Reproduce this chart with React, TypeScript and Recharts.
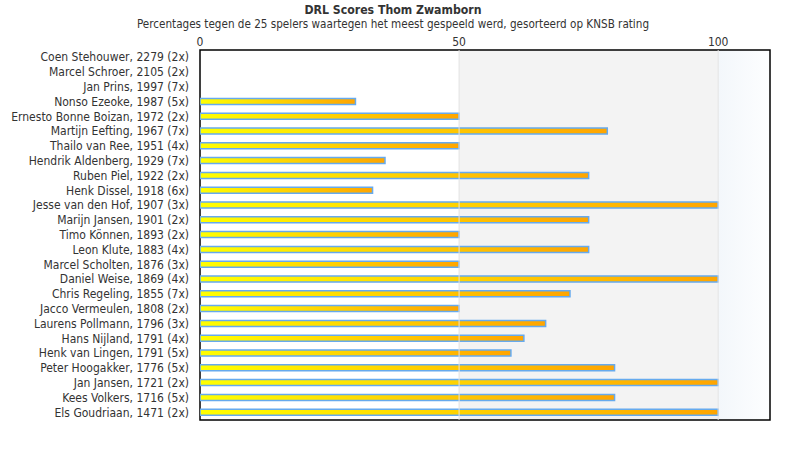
import { BarChart, Bar, XAxis, YAxis, ReferenceArea, ReferenceLine } from "recharts"

const players = [
  "Coen Stehouwer, 2279 (2x)",
  "Marcel Schroer, 2105 (2x)",
  "Jan Prins, 1997 (7x)",
  "Nonso Ezeoke, 1987 (5x)",
  "Ernesto Bonne Boizan, 1972 (2x)",
  "Martijn Eefting, 1967 (7x)",
  "Thailo van Ree, 1951 (4x)",
  "Hendrik Aldenberg, 1929 (7x)",
  "Ruben Piel, 1922 (2x)",
  "Henk Dissel, 1918 (6x)",
  "Jesse van den Hof, 1907 (3x)",
  "Marijn Jansen, 1901 (2x)",
  "Timo Können, 1893 (2x)",
  "Leon Klute, 1883 (4x)",
  "Marcel Scholten, 1876 (3x)",
  "Daniel Weise, 1869 (4x)",
  "Chris Regeling, 1855 (7x)",
  "Jacco Vermeulen, 1808 (2x)",
  "Laurens Pollmann, 1796 (3x)",
  "Hans Nijland, 1791 (4x)",
  "Henk van Lingen, 1791 (5x)",
  "Peter Hoogakker, 1776 (5x)",
  "Jan Jansen, 1721 (2x)",
  "Kees Volkers, 1716 (5x)",
  "Els Goudriaan, 1471 (2x)",
]

const scores = [
  0, 0, 0, 30, 50, 78.6, 50, 35.7, 75, 33.3, 100, 75, 50, 75, 50, 100, 71.4, 50, 66.7, 62.5, 60, 80, 100, 80, 100,
]

const xTicks = [0, 50, 100]

const data = players.map((name, i) => ({ name, score: scores[i] }))

const FONT = "'DejaVu Sans Condensed', 'DejaVu Sans', sans-serif"

// y labels drawn by hand so long names are not wrapped
const NameTick = ({ x, y, payload }: any) => (
  <text x={x} y={y} textAnchor="end" dominantBaseline="central" fontSize={12} fill="#333" fontFamily={FONT}>
    {payload.value}
  </text>
)

export default function App() {
  return (
    <div style={{ position: "absolute", left: 0, top: 0, width: 790, height: 450, background: "#fff", fontFamily: FONT }}>
      <svg width={790} height={40} style={{ position: "absolute", left: 0, top: 0 }}>
        <text x={393} y={14} textAnchor="middle" fontSize={12.2} fontWeight="bold" fill="#333" fontFamily={FONT}>
          DRL Scores Thom Zwamborn
        </text>
        <text x={393} y={28} textAnchor="middle" fontSize={11.6} fill="#333" fontFamily={FONT}>
          Percentages tegen de 25 spelers waartegen het meest gespeeld werd, gesorteerd op KNSB rating
        </text>
      </svg>
      <div style={{ position: "absolute", left: 0, top: 0 }}>
        <BarChart
          width={790}
          height={450}
          data={data}
          layout="vertical"
          margin={{ top: 30, right: 20, bottom: 30, left: 0 }}
          barCategoryGap={0}
        >
          <defs>
            <linearGradient id="barFill" x1="0" y1="0" x2="1" y2="0">
              <stop offset="0%" stopColor="#ffff00" />
              <stop offset="100%" stopColor="#ffa500" />
            </linearGradient>
            <linearGradient id="band3" x1="0" y1="0" x2="1" y2="0">
              <stop offset="0%" stopColor="#f3f7fb" />
              <stop offset="100%" stopColor="#fdfeff" />
            </linearGradient>
          </defs>
          <XAxis
            type="number"
            orientation="top"
            domain={[0, 110]}
            ticks={xTicks}
            height={20}
            axisLine={false}
            tickLine={false}
            tickSize={0}
            tickMargin={4}
            tick={{ fill: "#333", fontSize: 12, fontFamily: FONT }}
            allowDataOverflow
          />
          <YAxis
            type="category"
            dataKey="name"
            width={200}
            axisLine={false}
            tickLine={false}
            tickSize={0}
            tickMargin={11}
            interval={0}
            tick={<NameTick />}
          />
          <ReferenceArea x1={0} x2={50} fill="#ffffff" fillOpacity={1} stroke="none" />
          <ReferenceArea x1={50} x2={100} fill="#f3f3f3" fillOpacity={1} stroke="none" />
          <ReferenceArea x1={100} x2={110} fill="url(#band3)" fillOpacity={1} stroke="none" />
          <ReferenceLine x={50} stroke="#e3e3e3" strokeWidth={1} />
          <ReferenceLine x={100} stroke="#e3e3e3" strokeWidth={1} />
          <Bar
            dataKey="score"
            barSize={6}
            fill="url(#barFill)"
            stroke="#66aaee"
            strokeWidth={1.5}
            isAnimationActive={false}
          />
          <ReferenceArea x1={0} x2={110} fill="none" stroke="#000" strokeWidth={1.5} ifOverflow="visible" />
        </BarChart>
      </div>
    </div>
  )
}
